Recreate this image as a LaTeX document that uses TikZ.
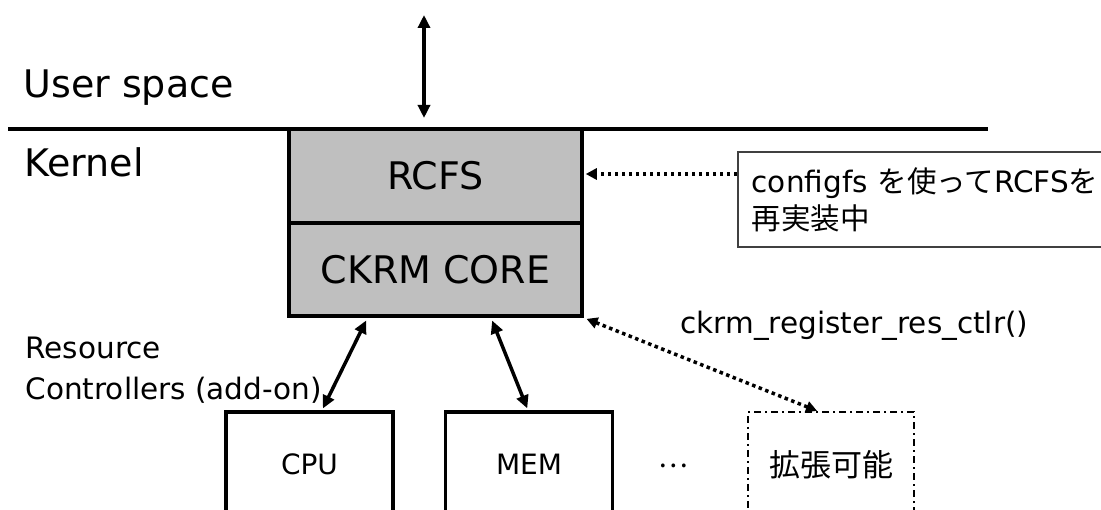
\documentclass[tikz,border=0pt]{standalone}
\usepackage{fontspec}
\setmainfont{DejaVu Sans}
\newfontfamily\cjk{Noto Sans CJK JP}
\usetikzlibrary{arrows.meta}

\tikzset{
  big/.style={font=\fontsize{38}{46}\selectfont},
  small/.style={font=\fontsize{29.5}{37}\selectfont},
  layer/.style={draw, line width=3.5pt, fill=black!25, minimum width=293pt, inner sep=0pt, big},
  ctlbox/.style={draw, line width=3.5pt, minimum width=167pt, minimum height=104pt, inner sep=0pt,
    font=\fontsize{28}{34}\selectfont},
  extbox/.style={draw, line width=1.5pt, dash pattern=on 7pt off 4pt on 2pt off 4pt,
    minimum width=166pt, minimum height=106pt, inner sep=0pt, font=\fontsize{31}{37}\selectfont\cjk},
  notebox/.style={draw=black!75, line width=1.5pt, align=left, text width=360pt, inner xsep=14pt,
    minimum height=95pt, small},
  bigtip/.tip={Triangle[length=13pt,width=12pt]},
  dottip/.tip={Triangle[length=11pt,width=11pt]},
  solidarrow/.style={line width=3.5pt, bigtip-bigtip},
  dotline/.style={line width=3.5pt, dash pattern=on 3.5pt off 3.5pt},
}

\begin{document}
\begin{tikzpicture}[x=1pt,y=-1pt]
  \clip (0,0) rectangle (1101,510);
  \useasboundingbox (0,0) rectangle (1101,510);

  % user/kernel boundary
  \coordinate (bl) at (8,129);
  \coordinate (br) at (988,129);
  \draw[line width=4pt] (bl) -- (br);

  \node[big, anchor=base west] (user) at (20,98) {User space};
  \node[big, anchor=base west] (kernel) at (21,177) {Kernel};

  % framework layers
  \node[layer, minimum height=94pt] (rcfs) at (435.5,176) {RCFS};
  \node[layer, minimum height=93pt] (core) at (435.5,269.5) {CKRM CORE};

  % system call path
  \coordinate (uptop) at (424,15);
  \coordinate (upbot) at (424,118);
  \draw[solidarrow] (uptop) -- (upbot);

  % note on the right
  \node[notebox, anchor=west] (note) at (737,199.5)
    {configfs {\cjk を使って}RCFS{\cjk を}\\{\cjk 再実装中}};
  \draw[dotline, -dottip, shorten >=2pt] (note.west |- 0,174) -- (rcfs.east |- 0,174);

  % resource controllers
  \node[small, anchor=base west] (rclabel) at (22,359) {Resource};
  \node[small, anchor=base west] (rclabel2) at (22,400) {Controllers (add-on)};

  \node[ctlbox] (cpu) at (309.5,464) {CPU};
  \node[ctlbox] (mem) at (529,464) {MEM};
  \node[font=\fontsize{28}{34}\selectfont\cjk] (dots) at (673,466) {…};
  \node[extbox] (ext) at (831,465) {拡張可能};

  \draw[solidarrow, shorten <=3pt, shorten >=2pt] ([xshift=-68pt]core.south) -- ([xshift=12.5pt]cpu.north);
  \draw[solidarrow, shorten <=3pt, shorten >=2pt] ([xshift=55.5pt]core.south) -- ([xshift=-1pt]mem.north);

  \draw[dotline, dottip-dottip, shorten <=3pt, shorten >=1pt] (core.south east) -- ([xshift=-13pt]ext.north);
  \node[small, anchor=base west] (reg) at (677,334) {ckrm\_register\_res\_ctlr()};
\end{tikzpicture}
\end{document}
